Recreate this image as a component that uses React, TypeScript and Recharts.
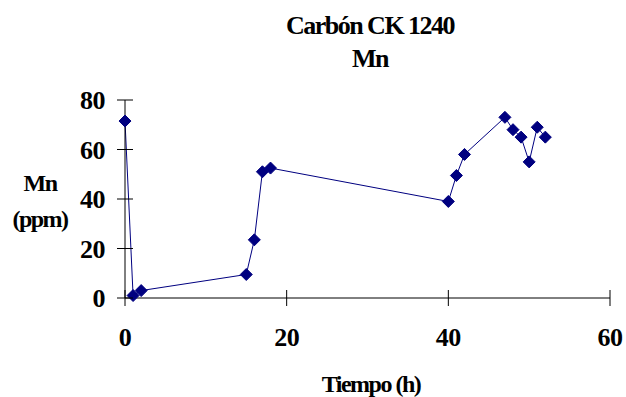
import React from 'react';
import { LineChart, Line, XAxis, YAxis } from 'recharts';

const hours = [0, 1, 2, 15, 16, 17, 18, 40, 41, 42, 47, 48, 49, 50, 51, 52];
const mnPpm = [71.5, 1, 3, 9.5, 23.5, 51, 52.5, 39, 49.5, 58, 73, 68, 65, 55, 69, 65];
const xTicks = [0, 20, 40, 60];
const yTicks = [0, 20, 40, 60, 80];

const data = hours.map((h, i) => ({ h, mn: mnPpm[i] }));

const NAVY = '#000080';
const FONT = '"Liberation Serif", "Times New Roman", serif';

function Diamond(props: any) {
  const { cx, cy } = props;
  if (cx == null || cy == null) return null;
  const r = 6;
  return (
    <path
      d={`M${cx},${cy - r} L${cx + r},${cy} L${cx},${cy + r} L${cx - r},${cy} Z`}
      fill={NAVY}
      stroke={NAVY}
    />
  );
}

// ticks that cross the axis line, like the original
function XTick(props: any) {
  const { x, payload } = props;
  const axisY = 298;
  return (
    <g>
      <line x1={x} x2={x} y1={axisY - 8} y2={axisY + 8} stroke="#000" />
      <text x={x} y={axisY + 48} textAnchor="middle" fontFamily={FONT} fontWeight="bold" fontSize={26} letterSpacing={-0.5} fill="#000">
        {payload.value}
      </text>
    </g>
  );
}

function YTick(props: any) {
  const { y, payload } = props;
  const axisX = 125;
  return (
    <g>
      <line x1={axisX - 8} x2={axisX + 8} y1={y} y2={y} stroke="#000" />
      <text x={105} y={y + 9} textAnchor="end" fontFamily={FONT} fontWeight="bold" fontSize={26} letterSpacing={-0.5} fill="#000">
        {payload.value}
      </text>
    </g>
  );
}

const textStyle: React.CSSProperties = {
  position: 'absolute',
  fontFamily: FONT,
  fontWeight: 'bold',
  color: '#000',
  letterSpacing: -1.5,
  whiteSpace: 'nowrap',
  lineHeight: 1,
};

export default function App() {
  return (
    <div style={{ position: 'absolute', left: 0, top: 0, width: 626, height: 397, background: '#fff' }}>
      <LineChart width={626} height={397} data={data} margin={{ top: 100, right: 16, bottom: 49, left: 0 }}>
        <XAxis
          dataKey="h"
          type="number"
          domain={[0, 60]}
          ticks={xTicks}
          tickLine={false}
          axisLine={{ stroke: '#000' }}
          tick={<XTick />}
          height={50}
          interval={0}
        />
        <YAxis
          type="number"
          domain={[0, 80]}
          ticks={yTicks}
          tickLine={false}
          axisLine={{ stroke: '#000' }}
          tick={<YTick />}
          width={125}
          interval={0}
        />
        <Line
          type="linear"
          dataKey="mn"
          stroke={NAVY}
          strokeWidth={1}
          dot={<Diamond />}
          isAnimationActive={false}
        />
      </LineChart>
      <div style={{ ...textStyle, left: 0, width: 740, top: 13, textAlign: 'center', fontSize: 26 }}>Carbón CK 1240</div>
      <div style={{ ...textStyle, left: 0, width: 740, top: 46, textAlign: 'center', fontSize: 26 }}>Mn</div>
      <div style={{ ...textStyle, left: 0, width: 80, top: 171, textAlign: 'center', fontSize: 24 }}>Mn</div>
      <div style={{ ...textStyle, left: 0, width: 80, top: 207, textAlign: 'center', fontSize: 24 }}>(ppm)</div>
      <div style={{ ...textStyle, left: 0, width: 742, top: 372, textAlign: 'center', fontSize: 24 }}>Tiempo (h)</div>
    </div>
  );
}
